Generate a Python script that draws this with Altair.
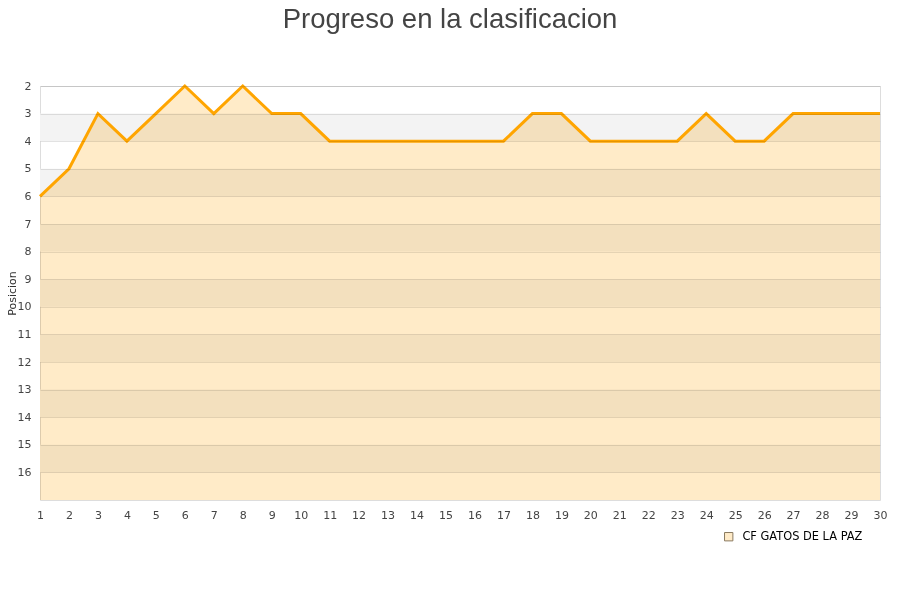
import altair as alt
import pandas as pd

jornadas = list(range(1, 31))
posiciones = [6, 5, 3, 4, 3, 2, 3, 2, 3, 3, 4, 4, 4, 4, 4, 4, 4, 3, 3, 4, 4, 4, 4, 3, 4, 4, 3, 3, 3, 3]
equipo = "CF GATOS DE LA PAZ"
band_start = [3, 5, 7, 9, 11, 13, 15]
band_end = [4, 6, 8, 10, 12, 14, 16]
y_ticks = list(range(2, 17))
y_bottom = 17

df = pd.DataFrame({"jornada": jornadas, "pos": posiciones, "equipo": equipo, "base": y_bottom})
bands = pd.DataFrame({"y1": band_start, "y2": band_end})

xscale = alt.Scale(domain=[1, 30], nice=False, zero=False)
yscale = alt.Scale(domain=[2, y_bottom], reverse=True, nice=False, zero=False)

x_axis = alt.Axis(values=jornadas, title=None, grid=False, ticks=False, domain=False,
                  labelPadding=9, labelFontSize=11, labelColor="#444", labelFont="DejaVu Sans",
                  labelOverlap=False, labelBound=False, labelFlush=False)
y_axis = alt.Axis(values=y_ticks, title="Posicion", grid=True, gridColor="#000", gridOpacity=0.1,
                  zindex=1, ticks=False, domain=False, labelPadding=9, labelFontSize=11,
                  labelColor="#444", labelFont="DejaVu Sans", labelOverlap=False,
                  labelBound=False, labelFlush=False, titleFontSize=11,
                  titleFontWeight="normal", titleColor="#333", titleFont="DejaVu Sans",
                  titleX=-23, titleY=207, titleAngle=-90, titleBaseline="bottom",
                  titleAlign="center")

band_layer = alt.Chart(bands).mark_rect(color="#f3f3f3", opacity=1).encode(
    y=alt.Y("y1:Q", scale=yscale, axis=y_axis),
    y2="y2:Q",
)

area = alt.Chart(df).mark_area(opacity=1, interpolate="linear", blend="multiply").encode(
    x=alt.X("jornada:Q", scale=xscale, axis=x_axis),
    y=alt.Y("pos:Q", scale=yscale, axis=y_axis),
    y2="base:Q",
    color=alt.Color("equipo:N", scale=alt.Scale(range=["#ffebc8"]),
                    legend=alt.Legend(title=None, orient="none", legendX=683, legendY=445,
                                      symbolType="square", symbolSize=70,
                                      symbolStrokeColor="#8a7a60", symbolStrokeWidth=1,
                                      labelFontSize=11.4, labelColor="#000", labelOffset=8,
                                      labelFont="DejaVu Sans")),
)

line = alt.Chart(df).mark_line(color="#ffa500", strokeWidth=3).encode(
    x=alt.X("jornada:Q", scale=xscale, axis=x_axis),
    y=alt.Y("pos:Q", scale=yscale, axis=y_axis),
)

chart = alt.layer(band_layer, area, line).properties(
    width=840, height=414,
    autosize=alt.AutoSizeParams(type="none"),
    padding={"left": 32, "top": 78, "right": 12, "bottom": 92},
    title=alt.TitleParams("Progreso en la clasificacion", fontSize=27.5, font="Liberation Sans",
                          fontWeight="normal", color="#444", offset=47, dx=-10),
).configure_view(stroke="#ddd", strokeWidth=1).configure_axis(labelOverlap=False)

chart.save("out.html", embed_options={"renderer": "svg", "actions": False})
